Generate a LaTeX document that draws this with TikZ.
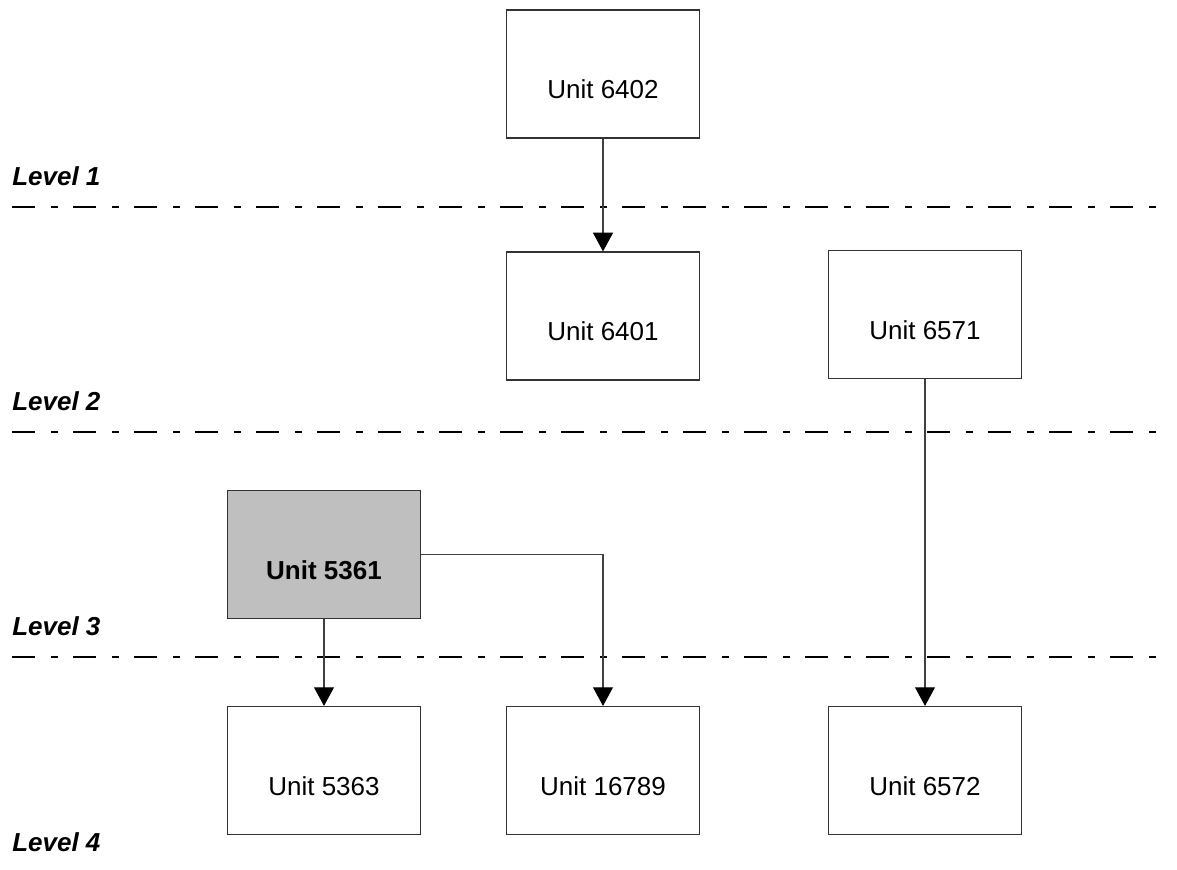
\documentclass[tikz,border=0pt]{standalone}
\usepackage{fontspec}
\setmainfont{Liberation Sans}
\usetikzlibrary{arrows.meta}
\tikzset{unit/.style={draw=black!80, line width=0.9pt, minimum width=144.75pt, minimum height=96pt,
    inner sep=0pt, text height=37pt, text depth=0pt, font=\fontsize{19.5}{23}\selectfont},
  hot/.style={unit, fill=black!25, font=\fontsize{19.5}{23}\selectfont\bfseries},
  link/.style={draw=black!75, line width=0.8pt, -{Triangle[length=14pt,width=15pt,black]}},
  divider/.style={black, line width=0.9pt, dash pattern=on 17.25pt off 12pt on 5.25pt off 11.25pt},
  level/.style={anchor=base west, inner sep=0pt, font=\fontsize{19.5}{23}\selectfont\bfseries\itshape}}

\begin{document}
\begin{tikzpicture}[x=0.75pt,y=-0.75pt]
  \useasboundingbox (0,0) rectangle (1177,869);
  % levels
  \draw[divider] (12,207) -- (1166,207);
  \draw[divider] (12,432) -- (1166,432);
  \draw[divider] (12,657) -- (1166,657);
  \node[level] (l1) at (12,185) {Level 1};
  \node[level] (l2) at (12,410) {Level 2};
  \node[level] (l3) at (12,635) {Level 3};
  \node[level] (l4) at (12,851) {Level 4};
  % units
  \node[unit] (a) at (603,74)    {Unit 6402};
  \node[unit] (b) at (603,316)   {Unit 6401};
  \node[unit] (c) at (925,314.5) {Unit 6571};
  \node[hot]  (d) at (324,554.5) {Unit 5361};
  \node[unit] (e) at (324,770.5) {Unit 5363};
  \node[unit] (f) at (603,770.5) {Unit 16789};
  \node[unit] (g) at (925,770.5) {Unit 6572};
  % links
  \draw[link] (a) -- (b);
  \draw[link] (c) -- (g);
  \draw[link] (d) -- (e);
  \draw[link] (d.east) -| (f.north);
\end{tikzpicture}
\end{document}
